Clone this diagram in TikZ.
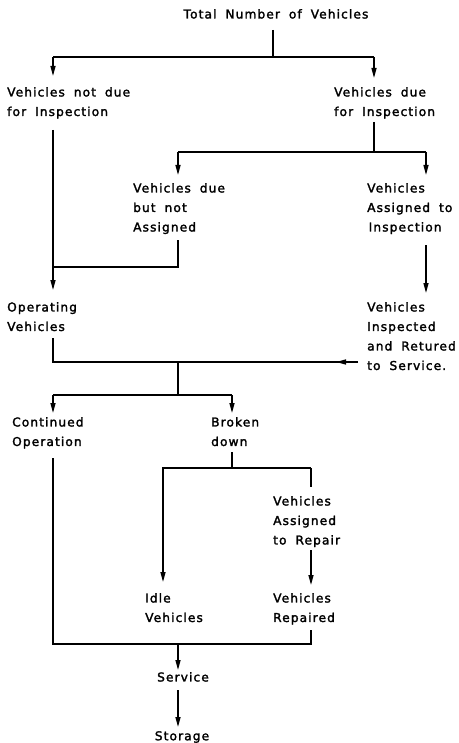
\documentclass[tikz,border=0pt]{standalone}
\usepackage{fontspec}
\setmainfont{DejaVu Sans}[LetterSpace=9,WordSpace=1.8,FakeBold=2]
\usetikzlibrary{arrows.meta}
\begin{document}
\begin{tikzpicture}[x=1pt,y=-1pt,
  lbl/.style={inner sep=0pt,align=left,anchor=north west,font=\fontsize{12.2}{19.5}\selectfont},
  clbl/.style={inner sep=0pt,align=center,anchor=north,font=\fontsize{12.2}{19.5}\selectfont},
  ln/.style={line width=1.4pt,line cap=butt,line join=miter},
  arr/.style={ln,-{Triangle[length=10pt,width=5pt]}}]
\useasboundingbox (0,0) rectangle (458,743);
% nodes
\node[clbl] (tot) at (276,9) {Total Number of Vehicles};
\node[lbl] (nd) at (7,87) {Vehicles not due\\for Inspection};
\node[lbl] (du) at (334,87) {Vehicles due\\for Inspection};
\node[lbl] (dna) at (133,183) {Vehicles due\\but not\\Assigned};
\node[lbl] (ai) at (367,183) {Vehicles\\Assigned to\\\hspace{1.5pt}Inspection};
\node[lbl] (op) at (7,302) {Operating\\Vehicles};
\node[lbl] (ir) at (367,302) {Vehicles\\Inspected\\and Retured\\to Service.};
\node[lbl] (co) at (12,417) {Continued\\Operation};
\node[lbl] (bd) at (211,417) {Broken\\down};
\node[lbl] (ar) at (273,496) {Vehicles\\Assigned\\to Repair};
\node[lbl] (iv) at (145,593) {Idle\\Vehicles};
\node[lbl] (vr) at (273,593) {Vehicles\\Repaired};
\node[clbl] (sv) at (183,672) {Service};
\node[clbl] (st) at (182,731) {Storage};
% coordinates
\coordinate (t0) at (273,30);  \coordinate (t1) at (273,57);
\coordinate (a1) at (53,57);   \coordinate (a2) at (374,57);
\coordinate (nd1) at (53,76);  \coordinate (du1) at (374,78);
\coordinate (nd2) at (53,130); \coordinate (op1) at (53,290);
\coordinate (m1) at (53,267);  \coordinate (dna2) at (178,240);
\coordinate (du2) at (374,122); \coordinate (d1) at (374,152);
\coordinate (b1) at (178,152); \coordinate (b2) at (426,152);
\coordinate (dna1) at (178,175); \coordinate (ai1) at (426,175);
\coordinate (ai2) at (426,245); \coordinate (ir1) at (426,293);
\coordinate (op2) at (53,338); \coordinate (h1) at (53,362);
\coordinate (h2) at (358,362); \coordinate (h3) at (336,362);
\coordinate (h0) at (178,362); \coordinate (c0) at (178,395);
\coordinate (c1) at (53,395);  \coordinate (c2) at (232,395);
\coordinate (co1) at (53,413); \coordinate (bd1) at (232,413);
\coordinate (bd2) at (232,452); \coordinate (e0) at (232,468);
\coordinate (e1) at (163,468); \coordinate (e2) at (311,468);
\coordinate (iv1) at (163,582); \coordinate (ar1) at (311,487);
\coordinate (ar2) at (311,550); \coordinate (vr1) at (311,585);
\coordinate (co2) at (53,458); \coordinate (f1) at (53,644);
\coordinate (f2) at (311,644); \coordinate (vr2) at (311,630);
\coordinate (f0) at (178,644); \coordinate (sv1) at (178,670);
\coordinate (sv2) at (178,690); \coordinate (st1) at (178,727);
% connectors
\draw[ln] (t0) -- (t1);
\draw[ln] (a1) -- (a2);
\draw[arr] (a1) -- (nd1);
\draw[arr] (a2) -- (du1);
\draw[arr] (nd2) -- (op1);
\draw[ln] (dna2) |- (m1);
\draw[ln] (du2) -- (d1);
\draw[ln] (b1) -- (b2);
\draw[arr] (b1) -- (dna1);
\draw[arr] (b2) -- (ai1);
\draw[arr] (ai2) -- (ir1);
\draw[ln] (op2) |- (h2);
\draw[arr] (h2) -- (h3);
\draw[ln] (h0) -- (c0);
\draw[ln] (c1) -- (c2);
\draw[arr] (c1) -- (co1);
\draw[arr] (c2) -- (bd1);
\draw[ln] (bd2) -- (e0);
\draw[arr] (e2) -- (e1) -- (iv1);
\draw[ln] (e2) -- (ar1);
\draw[arr] (ar2) -- (vr1);
\draw[ln] (co2) -- (f1) -- (f2) -- (vr2);
\draw[arr] (f0) -- (sv1);
\draw[arr] (sv2) -- (st1);
\end{tikzpicture}
\end{document}
